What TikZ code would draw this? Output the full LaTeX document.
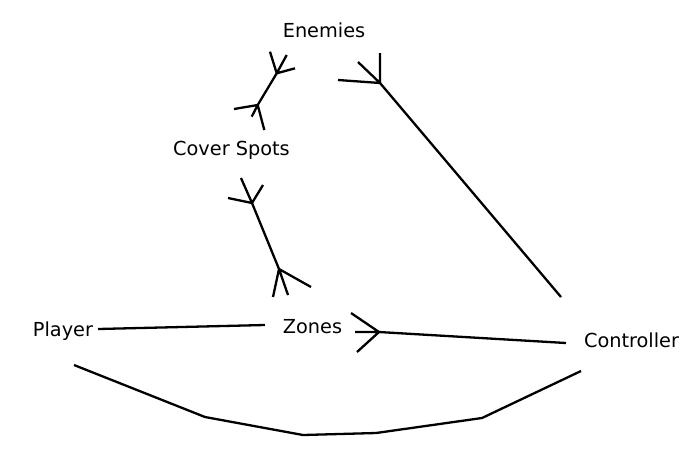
\documentclass[tikz,border=0pt]{standalone}
\usepackage{fontspec}
\setmainfont{DejaVu Sans}
\begin{document}
\begin{tikzpicture}[x=1pt,y=-1pt,
  lbl/.style={font=\fontsize{19.3}{23}\selectfont, inner sep=0pt, anchor=base},
  link/.style={line width=2.3pt, black}]
\useasboundingbox (0,0) rectangle (700,459);
\node[lbl] (enemies) at (324,37) {Enemies};
\node[lbl] (cover) at (231.5,155) {Cover Spots};
\node[lbl] (player) at (63,336) {Player};
\node[lbl] (zones) at (312.5,333) {Zones};
\node[lbl] (ctrl) at (631.5,347) {Controller};
% Cover Spots -- Enemies
\coordinate (ceA) at (257.7,105);
\coordinate (ceB) at (276.7,73.3);
\draw[link] (ceA) -- (ceB);
\draw[link] (ceA) -- (234,109) (ceA) -- (251.7,116.7) (ceA) -- (264.3,130);
\draw[link] (ceB) -- (270,51.7) (ceB) -- (286.7,55) (ceB) -- (295,68.3);
% Cover Spots -- Zones
\coordinate (czA) at (252,203);
\coordinate (czB) at (279,269);
\draw[link] (czA) -- (czB);
\draw[link] (czA) -- (241,178) (czA) -- (263,185) (czA) -- (228,198);
\draw[link] (czB) -- (273,297) (czB) -- (288,295) (czB) -- (311,287);
% Enemies -- Controller
\coordinate (ecA) at (380,83);
\coordinate (ecB) at (561,297);
\draw[link] (ecA) -- (ecB);
\draw[link] (ecA) -- (380,53) (ecA) -- (358,62) (ecA) -- (338,80);
% Zones -- Controller
\coordinate (zcA) at (379,332);
\coordinate (zcB) at (566,343);
\draw[link] (zcA) -- (zcB);
\draw[link] (zcA) -- (351,313) (zcA) -- (355,332) (zcA) -- (357,352);
% Player -- Zones
\coordinate (pzA) at (98,329);
\coordinate (pzB) at (265,325);
\draw[link] (pzA) -- (pzB);
% Player -- Controller
\coordinate (pcA) at (74,365);
\coordinate (pcB) at (581,371);
\draw[link] (pcA) -- (205,417) -- (303,435) -- (376,433) -- (482,418) -- (pcB);
\end{tikzpicture}
\end{document}
